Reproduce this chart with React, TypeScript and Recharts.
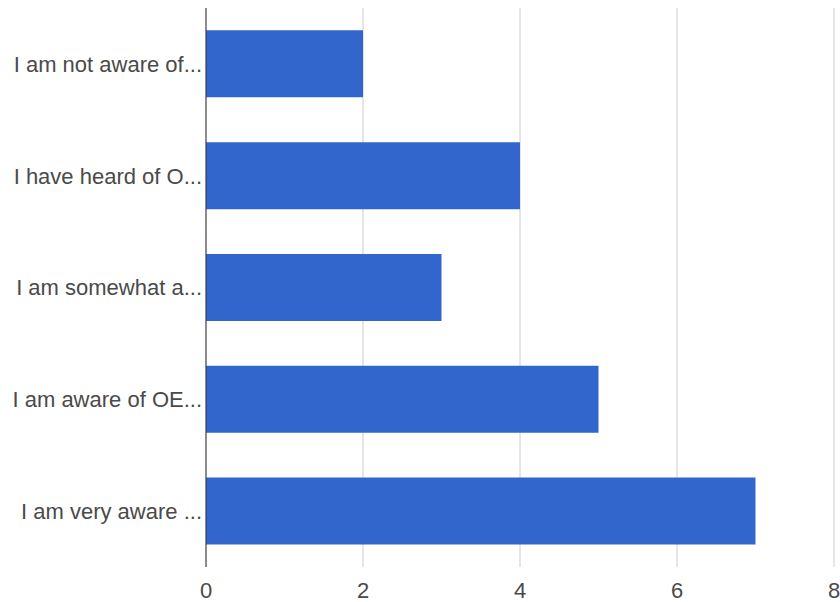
import React from "react";
import { BarChart, Bar, XAxis, YAxis, CartesianGrid } from "recharts";

const labels = [
  "I am not aware of...",
  "I have heard of O...",
  "I am somewhat a...",
  "I am aware of OE...",
  "I am very aware ...",
];
const counts = [2, 4, 3, 5, 7];
const xTicks = [0, 2, 4, 6, 8];

const data = labels.map((name, i) => ({ name, count: counts[i] }));

const FONT = "'Liberation Sans', Arial, sans-serif";

export default function App() {
  return (
    <div style={{ position: "absolute", left: 0, top: 0, width: 840, height: 602, background: "#fff" }}>
      <BarChart
        width={840}
        height={602}
        data={data}
        layout="vertical"
        margin={{ top: 8, right: 6, bottom: 0, left: 0 }}
        barCategoryGap="20%"
        style={{ fontFamily: FONT }}
      >
        <CartesianGrid horizontal={false} stroke="#cccccc" />
        <XAxis
          type="number"
          domain={[0, 8]}
          ticks={xTicks}
          height={35}
          axisLine={false}
          tickLine={false}
          tickSize={0}
          tickMargin={15}
          tick={{ fill: "#4a4a4a", fontSize: 22 }}
        />
        <YAxis
          type="category"
          dataKey="name"
          width={206}
          tickLine={false}
          tickSize={0}
          tickMargin={4}
          axisLine={{ stroke: "#333333" }}
          tick={{ fill: "#4a4a4a", fontSize: 22 }}
        />
        <Bar dataKey="count" fill="#3366cc" isAnimationActive={false} />
      </BarChart>
    </div>
  );
}
